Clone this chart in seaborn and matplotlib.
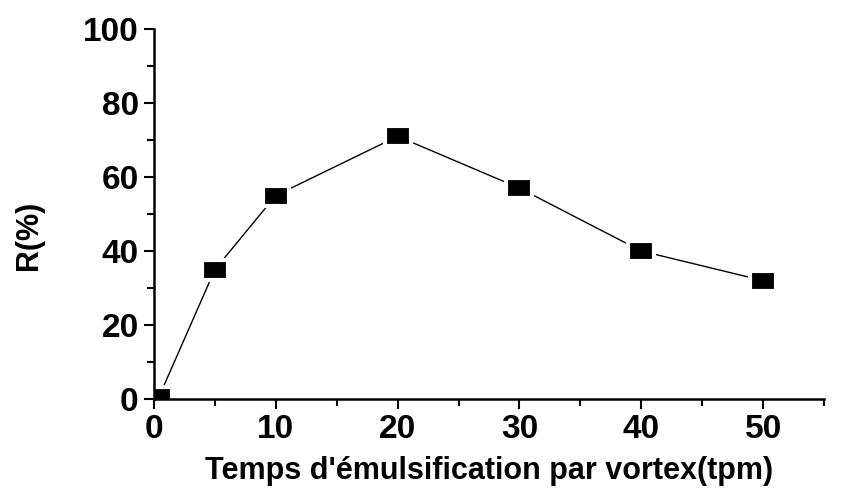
import matplotlib
matplotlib.use("Agg")
import matplotlib.pyplot as plt
import seaborn as sns
import pandas as pd
from matplotlib.ticker import MultipleLocator

time_tpm = [0.4, 5, 10, 20, 30, 40, 50]
r_pct = [0.5, 35, 55, 71, 57, 40, 32]
x_ticks = [0, 10, 20, 30, 40, 50]
y_ticks = [0, 20, 40, 60, 80, 100]

sns.set_style("ticks")
plt.rcParams['font.family'] = ['Liberation Sans', 'DejaVu Sans']
plt.rcParams['font.weight'] = 'bold'
plt.rcParams['text.color'] = 'black'
plt.rcParams['axes.labelcolor'] = 'black'
plt.rcParams['xtick.color'] = 'black'
plt.rcParams['ytick.color'] = 'black'
plt.rcParams['axes.edgecolor'] = 'black'

df = pd.DataFrame({"t": time_tpm, "r": r_pct})

fig = plt.figure(figsize=(8.48, 4.90), dpi=100)
ax = fig.add_axes([0.1816, 0.1857, 0.7901, 0.7551])

rect = [(-1.3, -1), (1.3, -1), (1.3, 1), (-1.3, 1), (-1.3, -1)]
sns.lineplot(data=df, x="t", y="r", ax=ax, color="black", linewidth=1.0,
             marker=rect, markersize=18.5, markerfacecolor="black",
             markeredgecolor="white", markeredgewidth=3.0)

ax.set_xlim(0, 55)
ax.set_ylim(0, 100)
ax.set_xticks(x_ticks)
ax.set_yticks(y_ticks)
ax.xaxis.set_minor_locator(MultipleLocator(5))
ax.yaxis.set_minor_locator(MultipleLocator(10))
ax.tick_params(which="major", length=7, width=1.5, direction="out", labelsize=24, pad=4,
               colors="black")
ax.tick_params(which="minor", length=5, width=1.5, direction="out", colors="black")
for lab in ax.get_xticklabels() + ax.get_yticklabels():
    lab.set_fontweight("bold")
for s in ["top", "right"]:
    ax.spines[s].set_visible(False)
for s in ["left", "bottom"]:
    ax.spines[s].set_linewidth(1.8)
    ax.spines[s].set_color("black")

ax.set_xlabel("Temps d'émulsification par vortex(tpm)", fontsize=22, fontweight="bold", labelpad=8)
ax.set_ylabel("R(%)", fontsize=22, fontweight="bold")
ax.yaxis.set_label_coords(-0.164, 0.443)

fig.savefig("out.png", dpi=100)
